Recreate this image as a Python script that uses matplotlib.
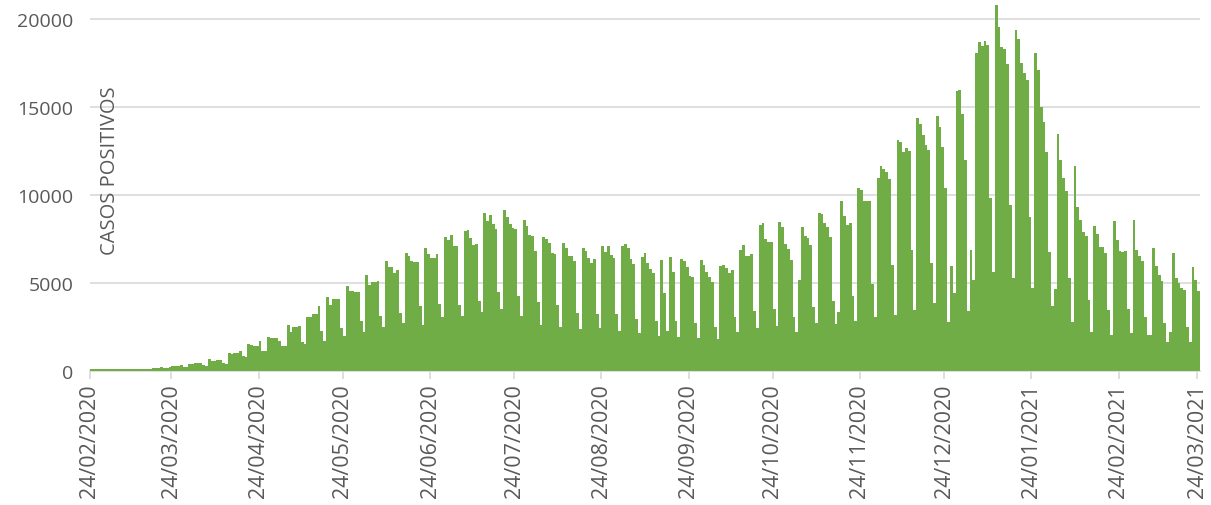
import matplotlib
matplotlib.use("Agg")
import matplotlib.pyplot as plt
import numpy as np

plt.rcParams['font.family'] = ['Open Sans', 'DejaVu Sans']

# daily positive cases, one row per week (Monday..Sunday), from 24/02/2020
casos = [
    100, 100, 100, 100, 100, 100, 100,
    100, 100, 100, 100, 100, 100, 100,
    100, 100, 110, 110, 110, 120, 130,
    140, 150, 160, 170, 200, 180, 190,
    250, 280, 300, 290, 320, 250, 230,
    380, 420, 440, 450, 460, 330, 300,
    680, 560, 590, 600, 620, 480, 420,
    1000, 960, 1000, 1050, 1150, 850, 780,
    1530, 1480, 1440, 1440, 1720, 1150, 1150,
    1910, 1900, 1900, 1880, 1700, 1440, 1400,
    2630, 2230, 2520, 2520, 2550, 1630, 1530,
    3090, 3090, 3240, 3240, 3670, 2270, 1720,
    4190, 3750, 4090, 4090, 4090, 2420, 2000,
    4810, 4560, 4560, 4470, 4470, 2840, 2230,
    5450, 4890, 5080, 5080, 5120, 3140, 2480,
    6270, 5890, 5890, 5570, 5760, 3280, 2730,
    6690, 6550, 6230, 6180, 6180, 3710, 2630,
    6990, 6650, 6400, 6400, 6630, 3810, 3070,
    7590, 7460, 7730, 7120, 7120, 3750, 3110,
    7940, 8010, 7540, 7180, 7240, 3960, 3330,
    8960, 8540, 8880, 8350, 8070, 4470, 3520,
    9170, 8730, 8350, 8120, 8070, 4280, 3110,
    8580, 8260, 7730, 7650, 6800, 3900, 2610,
    7590, 7500, 7270, 6690, 6650, 3750, 2480,
    7270, 6970, 6550, 6520, 6270, 3300, 2390,
    6970, 6800, 6400, 6120, 6360, 3220, 2420,
    7120, 6740, 7120, 6590, 6400, 3240, 2290,
    7120, 7220, 6990, 6360, 6080, 2950, 2160,
    6500, 6690, 6120, 5800, 5570, 2860, 1970,
    6330, 4430, 2290, 6460, 5640, 2860, 1910,
    6360, 6230, 5890, 5420, 5320, 2730, 1880,
    6330, 6040, 5610, 5360, 5040, 2480, 1820,
    5990, 6010, 5850, 5570, 5720, 3090, 2230,
    6890, 7180, 6550, 6550, 6650, 3390, 2440,
    8300, 8410, 7500, 7310, 7310, 3520, 2540,
    8450, 8160, 7220, 6930, 6330, 3050, 2230,
    5190, 8160, 7650, 7540, 7160, 3620, 2730,
    8980, 8920, 8410, 8200, 7630, 3960, 2670,
    3330, 9640, 8790, 8300, 8410, 4240, 2820,
    10400, 10300, 9640, 9640, 9640, 4940, 3050,
    10970, 11630, 11480, 11330, 10910, 6020, 3180,
    13130, 13030, 12460, 12670, 12520, 6890, 3470,
    14380, 14030, 13410, 12860, 12580, 6120, 3860,
    14470, 13850, 12710, 10380, 2800, 5990, 4430,
    15890, 15990, 14600, 12010, 3430, 6890, 5190,
    18050, 18710, 18480, 18770, 18540, 9810, 5610,
    20800, 19530, 18390, 18300, 17440, 9430, 5270,
    19380, 18860, 17500, 16930, 16530, 8730, 4720,
    18050, 17120, 14980, 14130, 12420, 6740, 3710,
    4660, 13470, 12010, 10970, 10250, 5270, 2800,
    11670, 9300, 8600, 7920, 7690, 4030, 2200,
    8260, 7780, 7060, 7030, 6700, 3470, 2060,
    8540, 7460, 6800, 6740, 6830, 3520, 2140,
    8580, 6890, 6520, 6230, 3090, 2050, 2060,
    6970, 5950, 5450, 5130, 2730, 1630, 2200,
    6700, 5280, 5000, 4720, 4600, 2480, 1630,
    5890, 5170, 4560,
]

fechas = np.arange('2020-02-24', '2021-03-25', dtype='datetime64[D]')
tick_fechas = np.array(['2020-02-24', '2020-03-24', '2020-04-24', '2020-05-24',
                        '2020-06-24', '2020-07-24', '2020-08-24', '2020-09-24',
                        '2020-10-24', '2020-11-24', '2020-12-24', '2021-01-24',
                        '2021-02-24', '2021-03-24'], dtype='datetime64[D]')
y_ticks = [0, 5000, 10000, 15000, 20000]

dias = (fechas - fechas[0]).astype(int)
tick_pos = (tick_fechas - fechas[0]).astype(int)
tick_labels = [str(d)[8:10] + '/' + str(d)[5:7] + '/' + str(d)[0:4] for d in tick_fechas]

fig = plt.figure(figsize=(12.11, 5.06), dpi=100)
ax = fig.add_axes([90 / 1211, 134 / 506, 1110 / 1211, 369.6 / 506])

ax.bar(dias + 0.5, casos, width=1.0, color='#70AD47', linewidth=0, zorder=3)

ax.set_xlim(0, len(casos))
ax.set_ylim(0, 21000)
ax.set_yticks(y_ticks)
ax.set_yticklabels([str(v) for v in y_ticks])
ax.set_xticks(tick_pos)
ax.set_xticklabels(tick_labels, rotation=90)

ax.grid(axis='y', color='#d9d9d9', linewidth=1.2, zorder=0)
for s in ['top', 'right', 'left']:
    ax.spines[s].set_visible(False)
ax.spines['bottom'].set_color('#d9d9d9')
ax.spines['bottom'].set_linewidth(1.2)
ax.tick_params(axis='y', length=0, pad=12, labelsize=14, labelcolor='#595959')
ax.tick_params(axis='x', length=6, width=1.2, color='#d9d9d9', pad=3,
               labelsize=15.5, labelcolor='#595959')

ax.text(0.018, 0.545, 'CASOS POSITIVOS', transform=ax.transAxes, rotation=90,
        ha='center', va='center', fontsize=14.5, color='#595959')

fig.savefig('out.png', dpi=100)
